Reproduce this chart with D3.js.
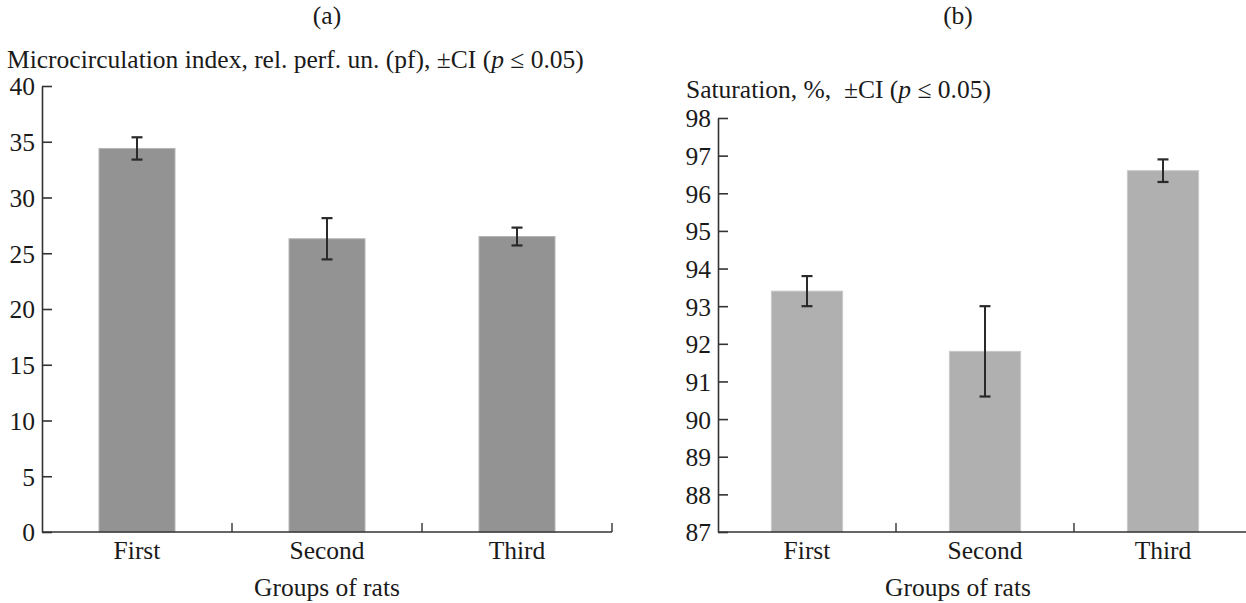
<!DOCTYPE html>
<html><head><meta charset="utf-8">
<script src="https://cdn.jsdelivr.net/npm/d3@7"></script>
<style>
body{margin:0;background:#fff;}
text{font-family:"Liberation Serif","Times New Roman",serif;fill:#1a1a1a;}
</style></head><body>
<svg id="c" width="1246" height="603"></svg>
<script>
const categories = ["First", "Second", "Third"];
const microValues = [34.4, 26.3, 26.5];
const microCI = [1.0, 1.85, 0.8];
const microTicks = [0, 5, 10, 15, 20, 25, 30, 35, 40];
const satValues = [93.4, 91.8, 96.6];
const satCI = [0.4, 1.2, 0.3];
const satTicks = [87, 88, 89, 90, 91, 92, 93, 94, 95, 96, 97, 98];

const svg = d3.select("#c");
const FS = 25.5;
const FF = '"Liberation Serif", "Times New Roman", serif';

function txt(sel) { return sel.attr("font-family", FF).style("font-family", FF).style("font-size", FS + "px").attr("fill", "#1a1a1a"); }

function panel(opt) {
  const g = svg.append("g");
  const x = d3.scaleBand().domain(categories).range([opt.x0, opt.x1]).paddingInner(0).paddingOuter(0);
  const y = d3.scaleLinear().domain(opt.domain).range([opt.yb, opt.yt]);
  const bw = x.bandwidth() * 0.4;
  g.selectAll("rect.bar").data(opt.values).enter().append("rect")
    .attr("x", (d, i) => x(categories[i]) + (x.bandwidth() - bw) / 2)
    .attr("width", bw)
    .attr("y", d => y(d))
    .attr("height", d => y(opt.domain[0]) - y(d))
    .attr("fill", opt.color).attr("stroke", opt.edge).attr("stroke-width", 1);
  const cap = 5.5;
  opt.values.forEach((v, i) => {
    const cx = x(categories[i]) + x.bandwidth() / 2;
    const e = opt.ci[i];
    g.append("line").attr("x1", cx).attr("x2", cx).attr("y1", y(v + e)).attr("y2", y(v - e))
      .attr("stroke", "#2a2a2a").attr("stroke-width", 2);
    [v + e, v - e].forEach(w => g.append("line").attr("x1", cx - cap).attr("x2", cx + cap)
      .attr("y1", y(w)).attr("y2", y(w)).attr("stroke", "#2a2a2a").attr("stroke-width", 2.2));
  });
  const ya = d3.axisLeft(y).tickValues(opt.ticks).tickSizeInner(-10).tickSizeOuter(0).tickPadding(7);
  const yg = g.append("g").attr("transform", `translate(${opt.x0},0)`).call(ya);
  yg.attr("font-family", FF);
  yg.select(".domain").attr("stroke", "#333").attr("stroke-width", 1.6);
  yg.selectAll(".tick line").attr("stroke", "#333").attr("stroke-width", 1.6);
  txt(yg.selectAll(".tick text")).attr("dy", "0.35em");
  const xa = g.append("g");
  xa.append("line").attr("x1", opt.x0).attr("x2", opt.axEnd).attr("y1", opt.yb).attr("y2", opt.yb)
    .attr("stroke", "#333").attr("stroke-width", 1.6);
  const bounds = categories.slice(1).map(c => x(c));
  if (opt.endTick) bounds.push(opt.x1);
  bounds.forEach(b => xa.append("line").attr("x1", b).attr("x2", b).attr("y1", opt.yb).attr("y2", opt.yb - 9)
    .attr("stroke", "#333").attr("stroke-width", 1.4));
  categories.forEach(c => txt(xa.append("text")).attr("x", x(c) + x.bandwidth() / 2).attr("y", 559)
    .attr("text-anchor", "middle").text(c));
  txt(g.append("text")).attr("x", opt.xtitle).attr("y", 596).attr("text-anchor", "middle").text("Groups of rats");
  txt(g.append("text")).attr("x", opt.xtitle).attr("y", 24).attr("text-anchor", "middle").text(opt.label);
  const t = txt(g.append("text")).attr("x", opt.tx).attr("y", opt.ty).attr("xml:space", "preserve").style("white-space", "pre");
  t.append("tspan").text(opt.title + "\u00A0\u00B1CI (");
  t.append("tspan").attr("font-style", "italic").text("p");
  t.append("tspan").text(" \u2264 0.05)");
}

panel({x0: 42, x1: 612, axEnd: 612, endTick: true, yb: 532, yt: 86, domain: [0, 40], ticks: microTicks,
  values: microValues, ci: microCI, color: "#939393", edge: "#b5b5b5",
  xtitle: 327, label: "(a)", tx: 7, ty: 68, title: "Microcirculation index, rel. perf. un. (pf),"});
panel({x0: 718, x1: 1252, axEnd: 1246, endTick: false, yb: 532, yt: 118, domain: [87, 98], ticks: satTicks,
  values: satValues, ci: satCI, color: "#b0b0b0", edge: "#c8c8c8",
  xtitle: 958, label: "(b)", tx: 686, ty: 98, title: "Saturation, %, "});
</script></body></html>
